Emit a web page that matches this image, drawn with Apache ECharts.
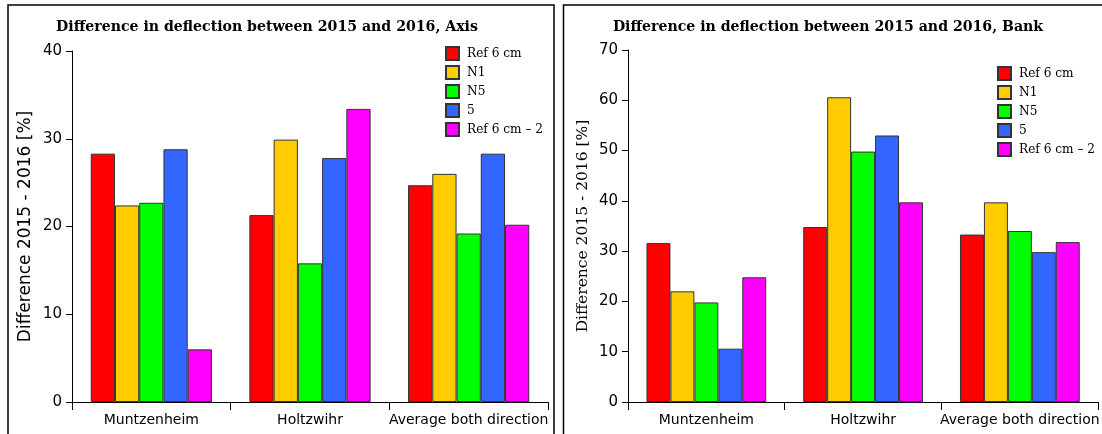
<!DOCTYPE html>
<html>
<head>
<meta charset="utf-8">
<script src="https://cdn.jsdelivr.net/npm/echarts@6/dist/echarts.min.js"></script>
<style>
  html, body { margin: 0; padding: 0; background: #fff; }
  #chart { width: 1102px; height: 434px; }
</style>
</head>
<body>
<div id="chart"></div>
<script>
// Categories along both x axes
const sites = ['Muntzenheim', 'Holtzwihr', 'Average both direction'];
// Series names and colours
const seriesNames = ['Ref 6 cm', 'N1', 'N5', '5', 'Ref 6 cm – 2'];
const seriesColors = ['#ff0000', '#ffcc00', '#00ff00', '#3366ff', '#ff00ff'];

// Axis panel: difference in deflection [%]
const axisRef6 = [28.3, 21.3, 24.7];
const axisN1 = [22.4, 29.9, 26.0];
const axisN5 = [22.7, 15.8, 19.2];
const axis5 = [28.8, 27.8, 28.3];
const axisRef6b = [6.0, 33.4, 20.2];

// Bank panel: difference in deflection [%]
const bankRef6 = [31.6, 34.8, 33.3];
const bankN1 = [22.0, 60.6, 39.7];
const bankN5 = [19.8, 49.8, 34.0];
const bank5 = [10.6, 53.0, 29.8];
const bankRef6b = [24.8, 39.7, 31.8];

const axisTicks = [0, 10, 20, 30, 40];
const bankTicks = [0, 10, 20, 30, 40, 50, 60, 70];

const axisData = [axisRef6, axisN1, axisN5, axis5, axisRef6b];
const bankData = [bankRef6, bankN1, bankN5, bank5, bankRef6b];

const sansFont = "'DejaVu Sans', sans-serif";
const serifFont = "'DejaVu Serif Condensed', 'DejaVu Serif', serif";
const plainSerif = "'DejaVu Serif', serif";

function makeSeries(values, idx) {
  return values.map((vals, i) => ({
    name: seriesNames[i],
    type: 'bar',
    xAxisIndex: idx,
    yAxisIndex: idx,
    data: vals,
    barGap: '0%',
    barCategoryGap: '23.6%',
    itemStyle: { color: seriesColors[i], borderColor: '#333', borderWidth: 1 },
    emphasis: { disabled: true }
  }));
}

function xAxisFor(idx) {
  return {
    type: 'category',
    gridIndex: idx,
    data: sites,
    axisLine: { lineStyle: { color: '#000', width: 1 } },
    axisTick: { show: true, interval: 0, length: 8, lineStyle: { color: '#000' } },
    axisLabel: { color: '#000', fontFamily: sansFont, fontSize: 14, margin: 11, interval: 0 }
  };
}

function yAxisFor(idx, ticks, name, nameFont, nameSize, nameGap) {
  return {
    type: 'value',
    gridIndex: idx,
    min: ticks[0],
    max: ticks[ticks.length - 1],
    interval: ticks[1] - ticks[0],
    name: name,
    nameLocation: 'middle',
    nameGap: nameGap,
    nameTextStyle: { color: '#000', fontFamily: nameFont, fontSize: nameSize },
    splitLine: { show: false },
    axisLine: { show: true, lineStyle: { color: '#000', width: 1 } },
    axisTick: { show: true, length: 6, lineStyle: { color: '#000' } },
    axisLabel: { color: '#000', fontFamily: sansFont, fontSize: 15, margin: 10 }
  };
}

function legendFor(left, top) {
  return {
    data: seriesNames,
    orient: 'vertical',
    left: left,
    top: top,
    itemWidth: 13,
    itemHeight: 13,
    itemGap: 4,
    padding: 0,
    icon: 'rect',
    textStyle: { color: '#000', fontFamily: serifFont, fontSize: 13.5, padding: [0, 0, 0, 3] },
    selectedMode: false
  };
}

const chart = echarts.init(document.getElementById('chart'), null, { renderer: 'canvas' });

chart.setOption({
  animation: false,
  backgroundColor: '#fff',
  title: [
    {
      text: 'Difference in deflection between 2015 and 2016, Axis',
      left: 262, top: 14, textAlign: 'center',
      textStyle: { fontFamily: serifFont, fontWeight: 'bold', fontSize: 15.7, color: '#000' }
    },
    {
      text: 'Difference in deflection between 2015 and 2016, Bank',
      left: 823, top: 14, textAlign: 'center',
      textStyle: { fontFamily: serifFont, fontWeight: 'bold', fontSize: 15.7, color: '#000' }
    }
  ],
  legend: [legendFor(445, 46), legendFor(997, 66)],
  grid: [
    { left: 72, top: 51, width: 476, height: 351 },
    { left: 628, top: 50, width: 474, height: 352 }
  ],
  xAxis: [xAxisFor(0), xAxisFor(1)],
  yAxis: [
    yAxisFor(0, axisTicks, 'Difference 2015 - 2016 [%]', sansFont, 17, 38),
    yAxisFor(1, bankTicks, 'Difference 2015 - 2016 [%]', plainSerif, 15.5, 37)
  ],
  series: makeSeries(axisData, 0).concat(makeSeries(bankData, 1)),
  graphic: [
    {
      type: 'rect', silent: true, z: 100,
      shape: { x: 8, y: 5, width: 546, height: 440 },
      style: { fill: 'none', stroke: '#000', lineWidth: 1.5 }
    },
    {
      type: 'rect', silent: true, z: 100,
      shape: { x: 563.5, y: 5, width: 560, height: 440 },
      style: { fill: 'none', stroke: '#000', lineWidth: 1.5 }
    }
  ]
});
</script>
</body>
</html>
